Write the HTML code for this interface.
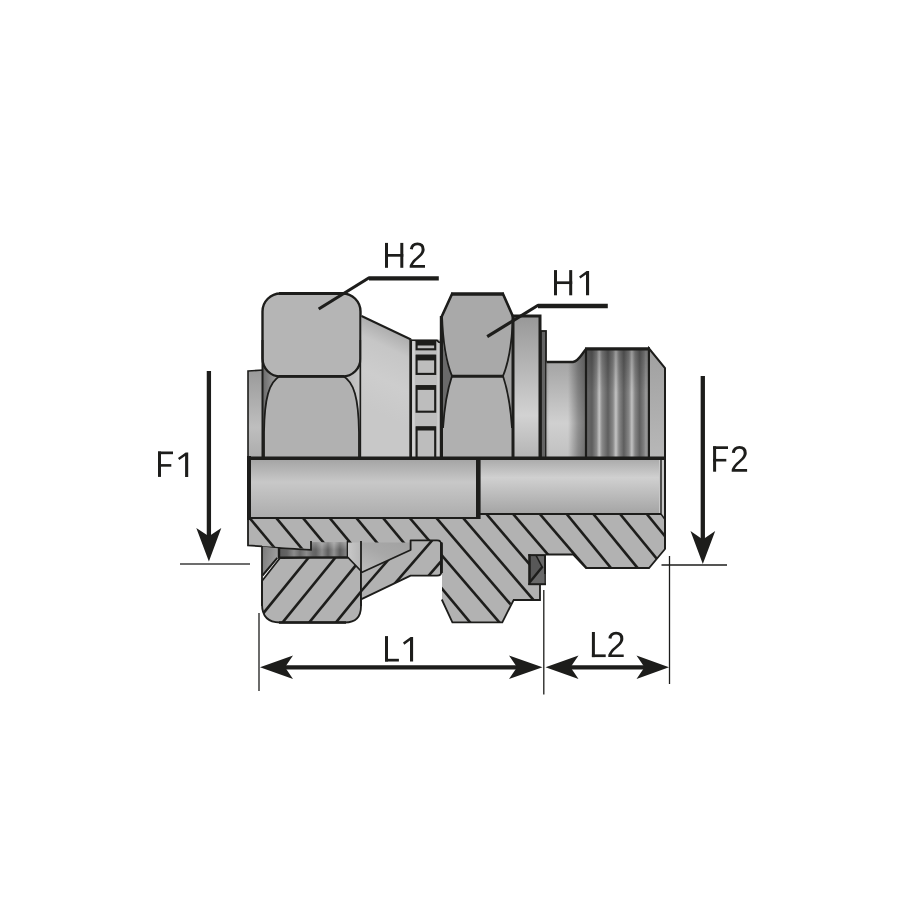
<!DOCTYPE html>
<html><head><meta charset="utf-8"><title>Fitting diagram</title>
<style>
html,body{margin:0;padding:0;background:#ffffff;}
body{width:900px;height:900px;overflow:hidden;font-family:"Liberation Sans",sans-serif;}
svg{display:block;}
</style></head>
<body>
<svg width="900" height="900" viewBox="0 0 900 900">
<defs>
<linearGradient id="gBoreL" x1="0" y1="0" x2="0" y2="1">
 <stop offset="0" stop-color="#a2a2a2"/><stop offset="0.4" stop-color="#c8c8c8"/><stop offset="1" stop-color="#acacac"/>
</linearGradient>
<linearGradient id="gBoreR" x1="0" y1="0" x2="0" y2="1">
 <stop offset="0" stop-color="#a8a8a8"/><stop offset="0.35" stop-color="#d0d0d0"/><stop offset="1" stop-color="#a4a4a4"/>
</linearGradient>
<linearGradient id="gFlange" x1="0" y1="0" x2="0" y2="1">
 <stop offset="0" stop-color="#9a9a9a"/><stop offset="0.65" stop-color="#bebebe"/><stop offset="1" stop-color="#acacac"/>
</linearGradient>
<linearGradient id="gCone" gradientUnits="userSpaceOnUse" x1="385" y1="327" x2="350" y2="399">
 <stop offset="0" stop-color="#adadad"/><stop offset="0.22" stop-color="#c6c6c6"/><stop offset="0.6" stop-color="#cdcdcd"/><stop offset="1" stop-color="#c8c8c8"/>
</linearGradient>
<linearGradient id="gWasher" x1="0" y1="0" x2="0" y2="1">
 <stop offset="0" stop-color="#989898"/><stop offset="0.7" stop-color="#d2d2d2"/><stop offset="1" stop-color="#b4b4b4"/>
</linearGradient>
<linearGradient id="gNeck" x1="0" y1="0" x2="0" y2="1">
 <stop offset="0" stop-color="#a0a0a0"/><stop offset="0.2" stop-color="#aaaaaa"/><stop offset="0.68" stop-color="#d0d0d0"/><stop offset="1" stop-color="#c0c0c0"/>
</linearGradient>
<linearGradient id="gNeckV" gradientUnits="userSpaceOnUse" x1="546" y1="0" x2="586" y2="0">
 <stop offset="0" stop-color="#000" stop-opacity="0.12"/><stop offset="0.08" stop-color="#000" stop-opacity="0"/><stop offset="0.55" stop-color="#000" stop-opacity="0"/><stop offset="0.8" stop-color="#000" stop-opacity="0.3"/><stop offset="1" stop-color="#000" stop-opacity="0.45"/>
</linearGradient>
<linearGradient id="gThread" gradientUnits="userSpaceOnUse" x1="586" y1="0" x2="649" y2="0">
 <stop offset="0.000" stop-color="#6a6a6a"/>
 <stop offset="0.095" stop-color="#5e5e5e"/>
 <stop offset="0.167" stop-color="#888888"/>
 <stop offset="0.210" stop-color="#c4c4c4"/>
 <stop offset="0.254" stop-color="#8a8a8a"/>
 <stop offset="0.349" stop-color="#5e5e5e"/>
 <stop offset="0.429" stop-color="#888888"/>
 <stop offset="0.475" stop-color="#c4c4c4"/>
 <stop offset="0.524" stop-color="#888888"/>
 <stop offset="0.600" stop-color="#5e5e5e"/>
 <stop offset="0.683" stop-color="#888888"/>
 <stop offset="0.727" stop-color="#c2c2c2"/>
 <stop offset="0.778" stop-color="#868686"/>
 <stop offset="0.852" stop-color="#606060"/>
 <stop offset="0.921" stop-color="#808080"/>
 <stop offset="0.952" stop-color="#9a9a9a"/>
 <stop offset="1.000" stop-color="#777777"/>
</linearGradient>
<linearGradient id="gThreadV" x1="0" y1="0" x2="0" y2="1"><stop offset="0" stop-color="#000" stop-opacity="0.22"/><stop offset="0.4" stop-color="#000" stop-opacity="0"/></linearGradient>
<linearGradient id="gEnd" x1="0" y1="0" x2="0" y2="1">
 <stop offset="0" stop-color="#a0a0a0"/><stop offset="1" stop-color="#b8b8b8"/>
</linearGradient>
<linearGradient id="gNutBackL" x1="0" y1="0" x2="1" y2="0">
 <stop offset="0" stop-color="#6a6a6a"/><stop offset="1" stop-color="#b8b8b8"/>
</linearGradient>
<linearGradient id="gNutBackR" x1="0" y1="0" x2="1" y2="0">
 <stop offset="0" stop-color="#b0b0b0"/><stop offset="1" stop-color="#c8c8c8"/>
</linearGradient>
<linearGradient id="gThr2" gradientUnits="userSpaceOnUse" x1="280" y1="0" x2="348" y2="0">
 <stop offset="0.000" stop-color="#5c5c5c"/>
 <stop offset="0.103" stop-color="#646464"/>
 <stop offset="0.206" stop-color="#8c8c8c"/>
 <stop offset="0.294" stop-color="#6a6a6a"/>
 <stop offset="0.390" stop-color="#8c8c8c"/>
 <stop offset="0.485" stop-color="#686868"/>
 <stop offset="0.529" stop-color="#646464"/>
 <stop offset="0.618" stop-color="#8e8e8e"/>
 <stop offset="0.706" stop-color="#606060"/>
 <stop offset="0.794" stop-color="#929292"/>
 <stop offset="0.882" stop-color="#5e5e5e"/>
 <stop offset="0.956" stop-color="#7c7c7c"/>
 <stop offset="1.000" stop-color="#888888"/>
</linearGradient>
<linearGradient id="gThr2V" x1="0" y1="0" x2="0" y2="1"><stop offset="0" stop-color="#fff" stop-opacity="0.28"/><stop offset="0.5" stop-color="#fff" stop-opacity="0"/></linearGradient>
<linearGradient id="gInner" x1="0.9" y1="0" x2="0.1" y2="1">
 <stop offset="0" stop-color="#a2a2a2"/><stop offset="0.45" stop-color="#a8a8a8"/><stop offset="1" stop-color="#bcbcbc"/>
</linearGradient>
<linearGradient id="gTri" x1="0" y1="0" x2="1" y2="0.3">
 <stop offset="0" stop-color="#7a7a7a"/><stop offset="1" stop-color="#a2a2a2"/>
</linearGradient>
<linearGradient id="gSmall" x1="0" y1="0" x2="1" y2="0">
 <stop offset="0" stop-color="#c8c8c8"/><stop offset="1" stop-color="#b6b6b6"/>
</linearGradient>
<clipPath id="cBody"><path d="M248,518 L478,518 L478,514 L661,514 L665,519 L665,549 L649,568 L586,568 L573,554.5 L529,554.5 L529,585 L540,585 L540,599 L513,599 L502,622.5 L452.5,622.5 L442,600 L442,541 L410.6,541 L410.6,543 L311,543 L311,549 L248,545.5 Z"/></clipPath>
<clipPath id="cNut"><path d="M262,581 L280,558 L348,557.5 L361,571 L361,606 Q361,622.5 345,622.5 L280,622.5 Q262,622.5 262,604 Z"/></clipPath>
<clipPath id="cCone"><path d="M361,572.8 L410.6,550 L410.6,540.3 L437,540.3 Q441.6,540.3 441.6,545 L441.6,571 Q441.6,575.6 437,575.6 L410.6,575.6 L361,599.4 Z"/></clipPath>
</defs>
<rect width="900" height="900" fill="#ffffff"/>

<!-- ============ UPPER HALF (outside view) ============ -->
<!-- left flange -->
<path d="M248,371 L263,370 L263,458 L248,458 Z" fill="url(#gFlange)" stroke="#1d1d1b" stroke-width="1.6"/>

<!-- H2 nut back (bounding) -->
<rect x="262.5" y="330" width="20" height="128" fill="url(#gNutBackL)"/>
<rect x="340" y="330" width="20.5" height="128" fill="url(#gNutBackR)"/>
<!-- H2 lower face -->
<path d="M280,376 C269,382 264.5,398 264,432 L264,458 L359,458 L359,432 C358.5,398 354,382 343,376 Z" fill="#b1b1b1" stroke="#1d1d1b" stroke-width="1.8"/>
<!-- H2 upper face -->
<rect x="262.5" y="293.5" width="98" height="83" rx="18" ry="18" fill="#b5b5b5" stroke="#1d1d1b" stroke-width="2.4"/>
<line x1="279" y1="376.3" x2="344" y2="376.3" stroke="#1d1d1b" stroke-width="2.6"/>
<line x1="279" y1="293.6" x2="344" y2="293.6" stroke="#1d1d1b" stroke-width="3"/>
<!-- H2 outer sides -->
<line x1="262.5" y1="340" x2="262.5" y2="458" stroke="#1d1d1b" stroke-width="2"/>
<line x1="360.5" y1="340" x2="360.5" y2="458" stroke="#1d1d1b" stroke-width="2"/>

<!-- cone -->
<path d="M361.5,316 L410,339.5 L410,458 L361.5,458 Z" fill="url(#gCone)"/>
<path d="M361.5,316 L411,339.5" fill="none" stroke="#1d1d1b" stroke-width="2"/>

<!-- ring with square holes -->
<rect x="410" y="339.5" width="31" height="118.5" fill="#bebebe"/>
<path d="M410,340.3 L437,340.3 L441,344" fill="none" stroke="#1d1d1b" stroke-width="1.8"/>
<line x1="410.7" y1="339.5" x2="410.7" y2="458" stroke="#1d1d1b" stroke-width="2.8"/>
<!-- squares -->
<rect x="412.2" y="341" width="2.6" height="117" fill="#d2d2d2"/>
<rect x="437.2" y="343" width="2.6" height="115" fill="#cccccc"/>
<g fill="#bdbdbd" stroke="#1d1d1b" stroke-width="2.1">
<rect x="416.6" y="341.3" width="18.6" height="8"/>
<rect x="416.6" y="355.7" width="18.6" height="18.2"/>
<rect x="416.6" y="386.2" width="18.6" height="25.5"/>
<rect x="416.6" y="427.4" width="18.6" height="31"/>
</g>
<g fill="#1d1d1b">
<rect x="416" y="340.5" width="19.8" height="5"/>
<rect x="416" y="354.8" width="19.8" height="5.6"/>
<rect x="416" y="385.3" width="19.8" height="4.6"/>
<rect x="416" y="426.5" width="19.8" height="4"/>
</g>

<!-- H1 nut -->
<path d="M441,316 L452,293.5 L503,293.5 L513,316 L513,458 L441,458 Z" fill="#a2a2a2"/>
<!-- dark sliver left -->
<path d="M442,330 C443,352 447,366 452,376 C448,388 444.5,405 443,430 L441,430 L441,330 Z" fill="#6a6a6a"/>
<!-- upper face -->
<path d="M452,294 L503,294 L513,316 C512,345 508,364 503,376 L452,376 C447,364 443,345 442,316 Z" fill="#a9a9a9"/>
<!-- lower face -->
<path d="M452,376 L503,376 C507,388 510.5,405 512,428 L512,458 L443,458 L443,428 C444.5,405 448,388 452,376 Z" fill="#b0b0b0"/>
<path d="M452,376 C448,388 444.5,405 443,428" fill="none" stroke="#1d1d1b" stroke-width="1.8"/>
<path d="M503,376 C507,388 510.5,405 512,428" fill="none" stroke="#1d1d1b" stroke-width="1.8"/>
<path d="M442,316 C443,345 447,364 452,376" fill="none" stroke="#1d1d1b" stroke-width="1.8"/>
<path d="M513,316 C512,345 508,364 503,376" fill="none" stroke="#1d1d1b" stroke-width="1.8"/>
<line x1="451" y1="376.3" x2="504" y2="376.3" stroke="#1d1d1b" stroke-width="3"/>
<path d="M441.4,458 L441.4,316" fill="none" stroke="#1d1d1b" stroke-width="3.2"/>
<path d="M441.5,317 L452,294 M503,294 L513.2,317" fill="none" stroke="#1d1d1b" stroke-width="2.6" stroke-linecap="round"/>
<path d="M451,294 L504,294" fill="none" stroke="#1d1d1b" stroke-width="3.3"/>

<!-- washer -->
<rect x="513" y="316" width="27" height="142" fill="url(#gWasher)"/>
<path d="M513,458 L513,316 L540,316 L540,458" fill="none" stroke="#1d1d1b" stroke-width="3"/>
<!-- thin dark ring (o-ring visible) -->
<rect x="541" y="331" width="5" height="127" fill="#646464" stroke="#1d1d1b" stroke-width="1.8"/>

<!-- neck -->
<path d="M546.5,362 L573,362 C579,361 581,355 586,349 L586,458 L546.5,458 Z" fill="url(#gNeck)"/>
<path d="M546.5,362 L573,362 C579,361 581,355 586,349 L586,458 L546.5,458 Z" fill="url(#gNeckV)"/>
<path d="M546.5,362 L573,362 C579,361 581,355 586,349" fill="none" stroke="#1d1d1b" stroke-width="2.4"/>
<!-- thread -->
<rect x="586" y="349" width="63" height="109" fill="url(#gThread)"/>
<rect x="586" y="349" width="63" height="109" fill="url(#gThreadV)"/>
<path d="M586,458 L586,349 M649,349 L649,458" fill="none" stroke="#1d1d1b" stroke-width="2.2"/>
<line x1="585" y1="348.9" x2="650" y2="348.9" stroke="#1d1d1b" stroke-width="3.2"/>
<!-- end chamfer -->
<path d="M649,348.5 L665,368 L665,458 L649,458 Z" fill="url(#gEnd)" stroke="#1d1d1b" stroke-width="2"/>

<!-- ============ BORE ============ -->
<rect x="248" y="458" width="230" height="60" fill="url(#gBoreL)"/>
<rect x="478" y="458" width="183" height="56" fill="url(#gBoreR)"/>
<rect x="659" y="458" width="6" height="61.5" fill="#c8c8c8"/>

<!-- ============ LOWER HALF (section) ============ -->
<!-- main body -->
<path d="M248,518 L478,518 L478,514 L661,514 L665,519 L665,549 L649,568 L586,568 L573,554.5 L529,554.5 L529,585 L540,585 L540,599 L513,599 L502,622.5 L452.5,622.5 L442,600 L442,541 L410.6,541 L410.6,543 L311,543 L311,549 L248,545.5 Z" fill="#b2b2b2"/>
<g clip-path="url(#cBody)" stroke="#1d1d1b" stroke-width="2.6">
<line x1="74.4" y1="500" x2="191.1" y2="640"/>
<line x1="101.1" y1="500" x2="217.8" y2="640"/>
<line x1="127.8" y1="500" x2="244.5" y2="640"/>
<line x1="154.5" y1="500" x2="271.2" y2="640"/>
<line x1="181.2" y1="500" x2="297.9" y2="640"/>
<line x1="207.9" y1="500" x2="324.6" y2="640"/>
<line x1="234.6" y1="500" x2="351.3" y2="640"/>
<line x1="261.3" y1="500" x2="378.0" y2="640"/>
<line x1="288.0" y1="500" x2="404.7" y2="640"/>
<line x1="314.7" y1="500" x2="431.4" y2="640"/>
<line x1="341.4" y1="500" x2="458.1" y2="640"/>
<line x1="368.1" y1="500" x2="484.8" y2="640"/>
<line x1="394.3" y1="500" x2="514.5" y2="640"/>
<line x1="421.0" y1="500" x2="541.2" y2="640"/>
<line x1="447.7" y1="500" x2="567.9" y2="640"/>
<line x1="474.4" y1="500" x2="594.6" y2="640"/>
<line x1="501.1" y1="500" x2="621.3" y2="640"/>
<line x1="527.8" y1="500" x2="648.0" y2="640"/>
<line x1="555.2" y1="500" x2="670.0" y2="640"/>
<line x1="581.9" y1="500" x2="696.7" y2="640"/>
<line x1="608.6" y1="500" x2="723.4" y2="640"/>
<line x1="635.3" y1="500" x2="750.1" y2="640"/>
<line x1="662.0" y1="500" x2="776.8" y2="640"/>
<line x1="688.7" y1="500" x2="803.5" y2="640"/>
<line x1="715.4" y1="500" x2="830.2" y2="640"/>
<line x1="742.1" y1="500" x2="856.9" y2="640"/>
</g>
<g fill="none" stroke="#1d1d1b" stroke-width="1.8" stroke-linejoin="miter">
<path d="M665,519 L665,549 L649,568 L586,568 L573,554.5 L546,554.5"/>
<path d="M540,585 L540,600 L513.6,600 L502.3,622.3 L452.4,622.3 L441.8,599.5"/>
<path d="M248,518 L248,545.5 L262,546.3"/>
</g>

<!-- thread strip between tube nose and nut -->
<path d="M279,549 L311,549.5 L311,542.3 L348,542.3 L348,557.5 L279,557.5 Z" fill="url(#gThr2)"/>
<rect x="311" y="542.3" width="37" height="15" fill="url(#gThr2V)"/>
<path d="M311,541 L311,549.8 L262,547" fill="none" stroke="#1d1d1b" stroke-width="1.8"/>
<line x1="348" y1="541" x2="348" y2="557" stroke="#1d1d1b" stroke-width="2.6"/>
<!-- small light area -->
<path d="M348,542.6 L361,542.6 L361,571 L348,557 Z" fill="url(#gSmall)"/>
<!-- triangle dark -->
<path d="M262,546.5 L279,548.5 L279,557 L277,558.3 L262,576 Z" fill="url(#gTri)"/>
<line x1="279" y1="547.5" x2="279" y2="558" stroke="#1d1d1b" stroke-width="2.4"/>
<line x1="278" y1="557.6" x2="348" y2="557.6" stroke="#1d1d1b" stroke-width="2.2"/>
<path d="M262.5,575.5 L277.3,557.8" fill="none" stroke="#1d1d1b" stroke-width="2"/>

<!-- cone inner visible surface -->
<path d="M361,542.6 L410.7,542.6 L410.7,550.7 L361,573 Z" fill="url(#gInner)"/>

<!-- H2 nut section -->
<path d="M262,581 L280,558 L348,557.5 L361,571 L361,606 Q361,622.5 345,622.5 L280,622.5 Q262,622.5 262,604 Z" fill="#b2b2b2"/>
<g clip-path="url(#cNut)" stroke="#1d1d1b" stroke-width="2.6">
<line x1="339.2" y1="520" x2="241.6" y2="640"/>
<line x1="365.9" y1="520" x2="268.3" y2="640"/>
<line x1="392.6" y1="520" x2="295.0" y2="640"/>
<line x1="419.3" y1="520" x2="321.7" y2="640"/>
<line x1="446.0" y1="520" x2="348.4" y2="640"/>
<line x1="472.7" y1="520" x2="375.1" y2="640"/>
<line x1="499.4" y1="520" x2="401.8" y2="640"/>
<line x1="526.1" y1="520" x2="428.5" y2="640"/>
<line x1="552.8" y1="520" x2="455.2" y2="640"/>
<line x1="579.5" y1="520" x2="481.9" y2="640"/>
</g>
<path d="M262,581 L280,558 L348,557.5 L361,571 L361,606 Q361,622.5 345,622.5 L280,622.5 Q262,622.5 262,604 Z" fill="none" stroke="#1d1d1b" stroke-width="1.8" stroke-linejoin="round"/>
<line x1="262" y1="546" x2="262" y2="606" stroke="#1d1d1b" stroke-width="1.8"/>
<line x1="361" y1="541" x2="361" y2="606" stroke="#1d1d1b" stroke-width="1.8"/>
<line x1="279" y1="622.5" x2="346" y2="622.5" stroke="#1d1d1b" stroke-width="2.6"/>

<!-- cone piece section -->
<path d="M361,572.8 L410.6,550 L410.6,540.3 L437,540.3 Q441.6,540.3 441.6,545 L441.6,571 Q441.6,575.6 437,575.6 L410.6,575.6 L361,599.4 Z" fill="#b2b2b2"/>
<g clip-path="url(#cCone)" stroke="#1d1d1b" stroke-width="2.6">
<line x1="395.8" y1="520" x2="291.9" y2="640"/>
<line x1="422.8" y1="520" x2="318.9" y2="640"/>
<line x1="449.8" y1="520" x2="345.9" y2="640"/>
<line x1="476.8" y1="520" x2="372.9" y2="640"/>
<line x1="503.8" y1="520" x2="399.9" y2="640"/>
</g>
<path d="M361,572.8 L410.6,550 L410.6,540.3 L437,540.3 Q441.6,540.3 441.6,545 L441.6,571 Q441.6,575.6 437,575.6 L410.6,575.6 L361,599.4 Z" fill="none" stroke="#1d1d1b" stroke-width="1.8" stroke-linejoin="round"/>
<line x1="441.4" y1="542.5" x2="441.4" y2="573" stroke="#1d1d1b" stroke-width="2.8"/>

<!-- O-ring -->
<rect x="529" y="555" width="16.5" height="29.5" fill="#696969"/>
<path d="M529,555 L536.1,555 L542.2,567.2 L530,582 L529,584 Z" fill="#585858"/>
<path d="M536.1,555.5 L542.2,567.2" fill="none" stroke="#1d1d1b" stroke-width="1.6"/>
<path d="M542.6,566.6 L530,582" fill="none" stroke="#1d1d1b" stroke-width="2.4"/>
<path d="M529.5,554.2 L529.5,585" fill="none" stroke="#1d1d1b" stroke-width="2.6"/>
<path d="M528.3,555.1 L546,555.1" fill="none" stroke="#1d1d1b" stroke-width="2"/>
<path d="M528.3,584.2 L546,584.2" fill="none" stroke="#1d1d1b" stroke-width="2"/>
<path d="M545,555 L545,574" fill="none" stroke="#1d1d1b" stroke-width="2"/>
<path d="M545.2,574 L545.2,585" fill="none" stroke="#1d1d1b" stroke-width="1.3"/>

<!-- bore lines -->
<line x1="247" y1="458.2" x2="666" y2="458.2" stroke="#1d1d1b" stroke-width="3.4"/>
<line x1="249" y1="456" x2="249" y2="520" stroke="#1d1d1b" stroke-width="4"/>
<line x1="478.3" y1="458" x2="478.3" y2="519" stroke="#1d1d1b" stroke-width="4.6"/>
<line x1="250" y1="518" x2="480" y2="518" stroke="#1d1d1b" stroke-width="2"/>
<line x1="478" y1="514" x2="661" y2="514" stroke="#1d1d1b" stroke-width="2"/>
<path d="M661,458 L661,514 L665,519.5" fill="none" stroke="#1d1d1b" stroke-width="1.4"/>
<line x1="665" y1="458" x2="665" y2="549" stroke="#1d1d1b" stroke-width="2"/>

<!-- ============ DIMENSIONS ============ -->
<g stroke="#1d1d1b" fill="#1d1d1b">
<!-- F1 -->
<line x1="208.9" y1="371" x2="208.9" y2="545" stroke-width="4.3"/>
<path d="M208.9,561.5 L196.3,528 L208.9,536.2 L221.3,528 Z" stroke="none"/>
<line x1="180" y1="564" x2="250" y2="564" stroke-width="1.5" stroke="#3c3c3c"/>
<!-- F2 -->
<line x1="702.8" y1="376" x2="702.8" y2="548" stroke-width="4.3"/>
<path d="M702.8,564 L690.5,531 L702.8,539.5 L715.2,531 Z" stroke="none"/>
<line x1="661.5" y1="565" x2="727" y2="565" stroke-width="1.3"/>
<line x1="669.5" y1="556" x2="669.5" y2="684" stroke-width="1.3"/>
<!-- L1 -->
<line x1="259" y1="613" x2="259" y2="691" stroke-width="1.3"/>
<line x1="282" y1="667.3" x2="520" y2="667.3" stroke-width="4.2"/>
<path d="M260,667.3 L293,655.5 L285,667.3 L293,679 Z" stroke="none"/>
<path d="M542.5,667.3 L509,655.5 L517,667.3 L509,679 Z" stroke="none"/>
<line x1="543.8" y1="590" x2="543.8" y2="694.5" stroke-width="1.3"/>
<!-- L2 -->
<line x1="568" y1="667.3" x2="646" y2="667.3" stroke-width="4.2"/>
<path d="M545.5,667.3 L578.5,655.5 L570.5,667.3 L578.5,679 Z" stroke="none"/>
<path d="M669,667.3 L636.5,655.5 L644.5,667.3 L636.5,679 Z" stroke="none"/>
<!-- H2 leader -->
<path d="M438.8,278.4 L369,278.4" fill="none" stroke-width="4.4"/>
<path d="M369.5,277.5 L318.7,309" fill="none" stroke-width="3.2"/>
<!-- H1 leader -->
<path d="M607.8,306 L538,306" fill="none" stroke-width="4.4"/>
<path d="M538.5,305 L487.2,336.6" fill="none" stroke-width="3.2"/>
</g>

<g fill="#1d1d1b">
<rect x="385.00" y="242.90" width="3.00" height="24.90"/><rect x="400.30" y="242.90" width="3.00" height="24.90"/><rect x="385.00" y="254.00" width="18.30" height="2.70"/><path transform="translate(408.011,267.800) scale(0.01640,-0.01762)" d="M103 0V127Q154 244 227.5 333.5Q301 423 382.0 495.5Q463 568 542.5 630.0Q622 692 686.0 754.0Q750 816 789.5 884.0Q829 952 829 1038Q829 1154 761.0 1218.0Q693 1282 572 1282Q457 1282 382.5 1219.5Q308 1157 295 1044L111 1061Q131 1230 254.5 1330.0Q378 1430 572 1430Q785 1430 899.5 1329.5Q1014 1229 1014 1044Q1014 962 976.5 881.0Q939 800 865.0 719.0Q791 638 582 468Q467 374 399.0 298.5Q331 223 301 153H1036V0Z"/>
<rect x="554.00" y="270.10" width="3.00" height="25.20"/><rect x="569.20" y="270.10" width="3.00" height="25.20"/><rect x="554.00" y="281.35" width="18.20" height="2.70"/><path d="M586.00,271.00 L589.10,271.00 L589.10,295.30 L586.00,295.30 L586.00,274.40 L580.40,278.60 L579.10,276.40 L586.60,271.00 Z"/>
<rect x="158.00" y="451.50" width="3.00" height="25.40"/><rect x="158.00" y="451.50" width="15.00" height="2.70"/><rect x="158.00" y="464.09" width="13.30" height="2.60"/><path d="M185.10,452.50 L188.20,452.50 L188.20,476.90 L185.10,476.90 L185.10,455.90 L179.30,460.10 L178.00,457.90 L185.70,452.50 Z"/>
<rect x="713.10" y="446.30" width="3.00" height="25.40"/><rect x="713.10" y="446.30" width="14.90" height="2.70"/><rect x="713.10" y="458.89" width="13.20" height="2.60"/><path transform="translate(730.000,471.700) scale(0.01651,-0.01797)" d="M103 0V127Q154 244 227.5 333.5Q301 423 382.0 495.5Q463 568 542.5 630.0Q622 692 686.0 754.0Q750 816 789.5 884.0Q829 952 829 1038Q829 1154 761.0 1218.0Q693 1282 572 1282Q457 1282 382.5 1219.5Q308 1157 295 1044L111 1061Q131 1230 254.5 1330.0Q378 1430 572 1430Q785 1430 899.5 1329.5Q1014 1229 1014 1044Q1014 962 976.5 881.0Q939 800 865.0 719.0Q791 638 582 468Q467 374 399.0 298.5Q331 223 301 153H1036V0Z"/>
<rect x="385.00" y="636.10" width="3.00" height="25.40"/><rect x="385.00" y="658.80" width="13.90" height="2.70"/><path d="M410.00,637.10 L413.10,637.10 L413.10,661.50 L410.00,661.50 L410.00,640.50 L404.30,644.70 L403.00,642.50 L410.60,637.10 Z"/>
<rect x="591.90" y="632.00" width="3.00" height="25.10"/><rect x="591.90" y="654.40" width="13.80" height="2.70"/><path transform="translate(606.600,657.100) scale(0.01651,-0.01769)" d="M103 0V127Q154 244 227.5 333.5Q301 423 382.0 495.5Q463 568 542.5 630.0Q622 692 686.0 754.0Q750 816 789.5 884.0Q829 952 829 1038Q829 1154 761.0 1218.0Q693 1282 572 1282Q457 1282 382.5 1219.5Q308 1157 295 1044L111 1061Q131 1230 254.5 1330.0Q378 1430 572 1430Q785 1430 899.5 1329.5Q1014 1229 1014 1044Q1014 962 976.5 881.0Q939 800 865.0 719.0Q791 638 582 468Q467 374 399.0 298.5Q331 223 301 153H1036V0Z"/>
</g>
</svg>
</body></html>
